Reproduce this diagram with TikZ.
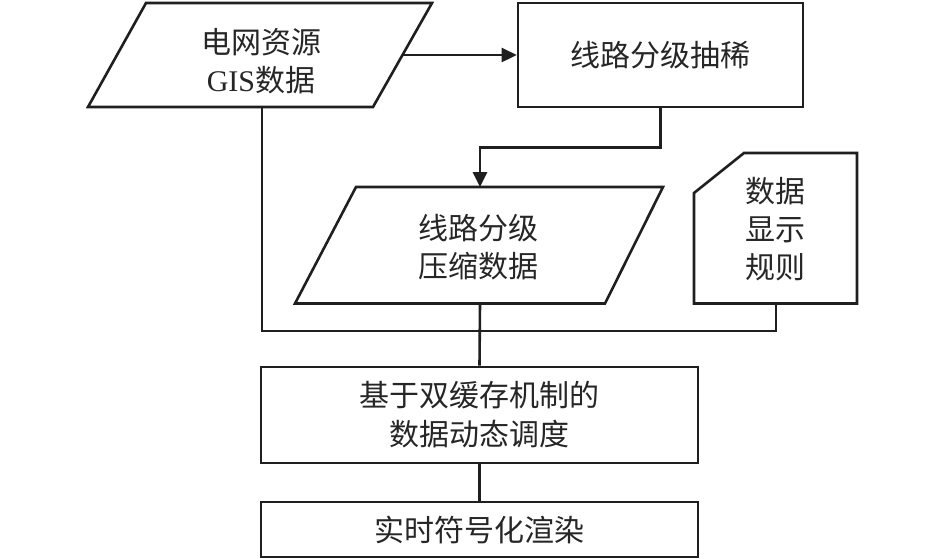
\documentclass[tikz,border=0pt]{standalone}
\usepackage{fontspec}
\setmainfont{Liberation Serif}
\newfontfamily\cjk{Noto Sans CJK SC}
\usetikzlibrary{arrows.meta}
\begin{document}
\begin{tikzpicture}[x=1pt,y=-1pt,
  shapeline/.style={draw=black!88, line width=2.6pt, line join=miter},
  conn/.style={draw=black!88, line width=2.6pt},
  arr/.style={conn, -{Triangle[length=15pt,width=14pt]}},
  txt/.style={align=center, inner sep=0pt, text=black!85, font=\fontsize{30}{38}\selectfont\cjk},
  boxnode/.style={shapeline, rectangle, inner sep=0pt, align=center, text=black!85, font=\fontsize{30}{39}\selectfont\cjk}]
\useasboundingbox (0,0) rectangle (946,558);

% parallelogram 1
\draw[shapeline] (146,3) -- (432,3) -- (373,107) -- (88,107) -- cycle;
\node[txt] (p1) at (261,61) {电网资源\\{\rmfamily GIS}数据};
\coordinate (p1r) at (402.5,55);
\coordinate (p1b) at (262,107);

% box 2
\node[boxnode, minimum width=285pt, minimum height=104pt] (r2) at (660.5,55) {线路分级抽稀};

% parallelogram 2
\draw[shapeline] (356,187) -- (663,187) -- (605,303.5) -- (295,303.5) -- cycle;
\node[txt] (p2) at (478,247) {线路分级\\压缩数据};
\coordinate (p2t) at (480,187);
\coordinate (p2b) at (480,303.5);

% card
\draw[shapeline] (744,153) -- (857,153) -- (857,303.5) -- (694,303.5) -- (694,193) -- cycle;
\node[txt] (card) at (775,229) {数据\\显示\\规则};
\coordinate (cardb) at (776,303.5);

% bottom boxes
\node[boxnode, minimum width=437pt, minimum height=96pt] (r3) at (479.5,415) {基于双缓存机制的\\数据动态调度};
\node[boxnode, minimum width=437pt, minimum height=55pt] (r4) at (479.5,529.5) {实时符号化渲染};

% connectors
\coordinate (bl) at (262,331);
\coordinate (br) at (776,331);
\draw[arr] (p1r) -- (r2.west);
\draw[arr] (r2.south) -- ++(0,39) -| (p2t);
\draw[conn] (p1b) -- (bl) -- (br) -- (cardb);
\draw[conn] (p2b) -- (r3.north);
\draw[conn] (r3.south) -- (r4.north);
\end{tikzpicture}
\end{document}
